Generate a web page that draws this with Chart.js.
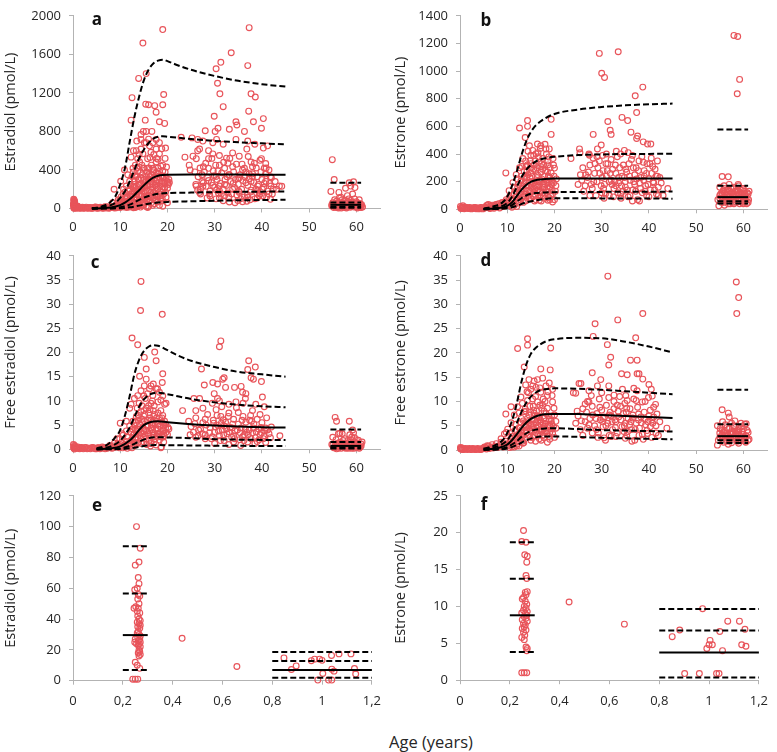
<!DOCTYPE html>
<html><head><meta charset="utf-8">
<script src="https://cdn.jsdelivr.net/npm/chart.js@4.4.1/dist/chart.umd.min.js"></script>
<style>
body{margin:0;background:#fff;width:777px;height:752px;position:relative;overflow:hidden;font-family:"Open Sans",sans-serif;}
canvas{position:absolute;}
.lbl{position:absolute;font-weight:bold;font-size:17px;color:#111;transform:translate(-50%,-50%);line-height:1;}
.xt{position:absolute;font-size:16.5px;color:#262626;transform:translate(-50%,-50%);white-space:nowrap;}
</style></head><body>
<canvas id="ca" width="390" height="240" style="left:0;top:0"></canvas>
<canvas id="cb" width="387" height="240" style="left:390px;top:0"></canvas>
<canvas id="cc" width="390" height="240" style="left:0;top:240px"></canvas>
<canvas id="cd" width="387" height="240" style="left:390px;top:240px"></canvas>
<canvas id="ce" width="390" height="240" style="left:0;top:480px"></canvas>
<canvas id="cf" width="387" height="240" style="left:390px;top:480px"></canvas>
<div class="lbl" style="left:97px;top:18px">a</div>
<div class="lbl" style="left:486px;top:19px">b</div>
<div class="lbl" style="left:95px;top:261px">c</div>
<div class="lbl" style="left:486px;top:259px">d</div>
<div class="lbl" style="left:97px;top:504px">e</div>
<div class="lbl" style="left:484px;top:503px">f</div>
<div class="xt" style="left:431px;top:741px">Age (years)</div>
<script>
// ---------- panel titles ----------
const yTitles = {a:"Estradiol (pmol/L)", b:"Estrone (pmol/L)", c:"Free estradiol (pmol/L)", d:"Free estrone (pmol/L)", e:"Estradiol (pmol/L)", f:"Estrone (pmol/L)"};

// ---------- panel a : estradiol (age 0-61 y) ----------
const aPoints = [
[0.15,95],[0.25,85],[0.2,75],[0.3,65],[0.25,55],[0.2,45],[0.3,38],[0.25,30],[0.2,22],[0.3,15],[0.25,8],[0.2,2],[0.45,28],[0.65,10],[0.85,15],[0.95,8],[1.0,14],[1.05,4],[1.1,18],
[1.4,5],[1.8,10],[2.2,3],[2.6,8],[3.0,4],[3.4,9],[3.8,3],[4.2,7],[4.6,12],[5.0,4],[5.4,9],[5.8,14],[6.2,6],[6.6,12],[7.0,5],[7.4,18],[7.8,8],[8.2,22],[8.6,12],[9.0,30],[9.4,15],[9.8,40],[10.2,20],[10.6,55],[11.0,30],[11.4,10],[12.0,15],[12.6,25],[13.2,10],[14.0,40],[8.4,60],[9.6,90],[10.2,120],
[8.7,200],[10.1,283],[10.9,400],[12.3,533],[13.4,600],[12.7,417],[11.6,350],[11.3,233],[10.6,150],[9.9,83],[9.2,43],[12.3,150],[13,283],[13.7,383],[14.1,483],[14.8,567],[15.8,517],[16.5,583],[16.9,417],[17.6,483],[18.3,383],[19,450],[19.7,317],[20.1,267],[19.4,217],[18.7,167],[17.6,217],[16.5,283],[15.5,333],[14.8,250],[14.1,183],[13.4,117],[14.4,83],[15.5,133],[16.2,83],[16.9,33],[17.9,67],[18.3,33],[19,23],[19.7,117],[15.8,233],[17.3,317],[14.4,317],[13.4,233],[12.3,83],[11.3,67],[10.9,117],[12,283],[12.7,217],[15.1,417],[15.8,417],[13.7,517],[14.4,617],[16.2,650],[16.9,683],[15.1,683],[17.6,367],[18.7,283],[16.5,167],[15.1,167],[13.4,333],[12.5,333],[10.7,200],[18.3,567],
[14.8,1717],[19,1857],[15.5,1400],[13.9,1350],[12.5,1150],[19.2,1183],[15.4,1083],[16,1077],[17.3,1067],[19,1077],[17.6,1000],[12.3,917],[15.3,917],[18.3,900],[19.4,883],[15.5,800],[16.7,800],[14.4,767],[14.4,717],[17.6,717],[18.3,683],[19.6,627],[17.6,617],[15.5,683],
[12.8,380],[13.2,450],[13.8,300],[14.3,380],[14.6,450],[15.0,300],[15.3,230],[15.6,380],[16.0,350],[16.3,250],[16.6,450],[17.0,250],[17.3,140],[17.8,300],[18.0,420],[18.5,230],[18.8,340],[19.2,270],[19.5,380],[20.0,210],[11.8,180],[12.2,250],[13.0,180],[13.6,160],[14.6,130],[16.0,190],[17.0,110],[18.0,120],[19.2,150],[11.5,120],[12.0,50],[13.0,60],[14.0,30],[15.0,40],[16.0,20],[17.2,50],[18.6,80],[20.0,60],[10.5,90],[11.0,170],[12.8,600],[13.5,700],[14.0,560],[14.9,800],[16.0,720],[17.1,560],[18.0,510],[18.8,620],[19.5,520],[20.2,250],[20.4,270],
[37.3,1877],[33.5,1617],[31.3,1517],[30.3,1450],[37,1483],[30.6,1300],[37.7,1190],[38.6,1157],[31.1,1190],[31.8,1057],[37.2,1010],[29.9,957],[40.3,933],[38.2,900],[34.5,900],[34.7,867],[33.1,823],[30.7,833],[30.1,800],[28,807],[39.9,833],[36.3,800],
[22.9,740],[25.2,733],[26.4,717],[27.5,700],[29.6,683],[30.4,717],[31.8,667],[34.5,717],[37,700],[38.5,667],[40.3,627],[41.2,650],[36.8,617],[26.8,617],[28.7,600],[29.6,567],[33.8,577],[26.4,600],[23.7,533],[25.4,543],[26.1,517],[28.7,517],[31,550],[32.5,523],[35.2,543],[37.7,483],[39.9,517],[40.8,467],[24.6,450],[24.8,400],[27.3,350],[27.6,433],[28.7,417],[31,450],[32.1,417],[33.8,433],[36.3,417],[38,433],[40.5,417],[41.5,400],[30.3,333],[33.1,350],[35.2,317],[38,333],[40.8,283],[43.7,233],[41.9,233],[26.1,233],[27.6,267],[31,233],[34.2,217],[36.6,267],[39.1,233],[28.9,150],[32.1,133],[33.1,67],[34.9,83],[37,117],[39.4,133],[41.5,150],[30.3,100],[26.8,167],[31,183],[35.2,167],[37.7,190],[40.1,200],
[26,250],[26.5,330],[27,200],[27.3,280],[27.8,380],[28.2,230],[28.5,320],[29,180],[29.3,270],[29.7,390],[30,220],[30.5,300],[30.8,160],[31.2,260],[31.5,370],[31.8,200],[32.2,300],[32.5,240],[32.8,160],[33,350],[33.4,280],[33.8,200],[34,380],[34.4,300],[34.7,140],[35,250],[35.4,350],[35.7,200],[36,290],[36.3,120],[36.6,380],[37,240],[37.3,310],[37.6,170],[38,360],[38.3,270],[38.7,200],[39,330],[39.3,250],[39.6,150],[40,300],[40.4,220],[40.8,360],[41.2,180],[41.6,260],[42,320],[42.4,200],[30.2,450],[32.8,470],[35.8,460],[38.8,420],[29,130],[31,110],[33,120],[35.5,100],[37.5,90],[39,110],[41,120],[27,150],[34.3,60],[36.8,75],[38.5,100],[41.8,95],[44.2,230],[43.1,200],
[54.9,507],[55.3,300],[54.6,177],[56.3,167],[57.7,210],[58.8,233],[58.5,267],[59.4,277],[59.7,217],[56.7,117],[58.1,133],[59.2,150],[57.7,83],[58.8,83],[55,60],[55.5,40],[56,20],[56.5,50],[57,30],[57.5,10],[58,55],[58.5,25],[59,45],[59.5,15],[60,35],[60.5,20],[61,30],[55.2,10],[56.2,5],[57.2,45],[58.2,70],[59.2,60],[60.2,5],[60.8,50],[54.8,25],[55.8,75],[57,90],[60,70]
];
const aPointsDense = [
[0.6,3],[0.9,25],[1.2,10],[1.6,2],[2.0,12],[2.4,6],[2.8,14],[3.2,2],[3.6,11],[4.0,2],[4.4,4],[4.8,15],[5.2,2],[5.6,6],[6.0,10],[6.4,3],[6.8,18],[7.2,9],[7.6,3],[8.0,12],[8.8,5],[9.2,8],[10.0,10],[10.4,35],[10.8,15],[11.2,45],[11.6,25],[12.2,35],[12.8,8],[13.6,20],[0.1,50],[0.35,72],[0.1,30],[0.35,12],
[12.4,110],[12.9,250],[13.1,340],[13.3,90],[13.5,420],[13.9,200],[14.2,250],[14.5,200],[14.7,350],[15.2,100],[15.4,270],[15.7,180],[15.9,300],[16.1,420],[16.4,120],[16.7,350],[16.8,220],[17.1,400],[17.4,180],[17.6,280],[17.9,200],[18.1,330],[18.4,130],[18.6,440],[18.9,260],[19.1,200],[19.3,330],[19.6,170],[19.9,280],[20.3,300],[14.0,140],[15.2,60],[16.6,60],[17.5,90],[18.9,100],[13.8,70],[12.6,60],[14.9,420],[16.3,530],[17.7,520],[19.8,430],
[25.8,380],[26.9,420],[28.1,470],[29.4,520],[30.7,390],[31.9,480],[33.2,520],[34.6,460],[35.9,400],[37.1,540],[38.4,470],[39.6,500],[40.9,420],[27.5,230],[28.7,290],[29.9,340],[31.4,150],[32.6,330],[33.9,260],[35.1,180],[36.4,330],[37.7,280],[39.1,190],[40.5,260],[41.8,330],[42.8,280],[26.4,190],[29.6,240],[32.1,250],[34.9,310],[37.3,360],[39.8,380],[30.4,190],[33.6,150],[36.9,140],[40.2,130],[28.4,110],[31.8,80],[35.9,70],[38.9,160],[42.2,150],
[54.8,40],[55.3,25],[55.6,55],[55.9,10],[56.3,35],[56.6,15],[56.9,60],[57.3,20],[57.6,40],[57.9,5],[58.3,30],[58.7,12],[59,65],[59.3,30],[59.7,45],[60.1,15],[60.4,55],[60.7,10],[61.1,40],[61.3,15],[55.4,90],[56.4,110],[59.6,100],[60.6,90],[58.4,100]
];
const aPointsCore = [
[10.8,60],[11.2,100],[11.5,20],[11.8,80],[12.1,130],[12.3,30],[12.6,170],[12.9,90],[13.1,20],[13.3,150],[13.6,60],[13.9,250],[14.1,100],[14.3,15],[14.6,210],[14.8,60],[15.1,120],[15.3,180],[15.6,80],[15.8,10],[16.1,130],[16.3,330],[16.6,110],[16.8,260],[17.1,170],[17.4,240],[17.7,130],[18.0,200],[18.3,270],[18.6,110],[19.0,330],[19.4,260],[12.0,200],[13.0,220],[14.0,300],[15.0,230],[16.0,300],[17.0,380],[18.0,360],[19.0,390],[13.5,40],[14.7,30],[15.5,20],[11.0,40],[10.0,60],[9.5,25],
[55,30],[55.5,15],[56,45],[56.5,25],[57,55],[57.5,35],[58,15],[58.5,50],[59,20],[59.5,40],[60,55],[60.5,35],[61,10],[55.8,20],[57.8,25],[59.8,25],[56.8,5],[58.8,40]
];
const aP975 = [[4,0],[6,20],[8,70],[9,130],[10,250],[11,420],[12,690],[13,950],[14,1160],[15,1330],[16,1440],[17,1505],[18,1535],[19,1545],[20,1530],[22,1490],[25,1440],[30,1375],[35,1325],[40,1290],[45,1265]];
const aP75 = [[4,0],[6,10],[8,35],[9,60],[10,110],[11,180],[12,280],[13,400],[14,520],[15,610],[16,680],[17,725],[18,745],[19,750],[20,745],[25,722],[30,702],[35,688],[40,676],[45,665]];
const aP50 = [[4,0],[6,3],[8,10],[10,35],[11,60],[12,95],[13,140],[14,190],[15,240],[16,285],[17,320],[18,340],[19,348],[20,350],[25,352],[30,352],[35,352],[40,350],[45,350]];
const aP25 = [[4,0],[8,3],[10,12],[12,40],[14,90],[16,130],[18,152],[20,160],[25,165],[30,170],[35,173],[40,175],[45,177]];
const aP025 = [[4,0],[10,3],[12,12],[14,30],[16,50],[18,62],[20,68],[25,75],[30,80],[35,85],[40,88],[45,90]];
const aPost = [268, 62, 38, 18, 8];   // P97.5, P75, P50, P25, P2.5 (postmenopausal)

// ---------- panel b : estrone ----------
const bPoints = [
[0.1,20],[0.3,12],[0.5,6],[0.7,15],[1.0,8],[1.4,12],[1.8,5],[2.2,10],[2.6,6],[3.0,12],[3.4,4],[3.8,9],[4.2,5],[4.6,11],[5.0,7],[5.4,15],[5.8,30],[6.2,10],[6.6,22],[7.0,14],[7.4,28],[7.8,18],[8.2,40],[8.6,25],[9.0,50],[9.4,35],[9.8,70],[10.2,45],[10.6,25],[11.0,15],[11.5,30],[12.0,20],[5.6,25],[6.0,35],
[29.5,1128],[33.5,1140],[30,984],[30.6,954],[38.7,884],[37.1,821],[31.3,635],[34.3,665],[35.5,642],[31.8,572],[32,542],[28.2,542],[36.2,558],[37.4,700],[37.6,530],[37.4,512],[38.8,488],[39.7,472],[40.4,472],[29.9,465],[29.1,437],[34.8,426],[25.3,437],[25.4,409],[23.5,367],[27.4,391],[12.6,588],[14.3,642],[14.3,600],[13.8,519],[19.3,651],[19.3,542],[9.7,263],
[11.9,251],[13.3,367],[14.7,460],[15.4,426],[16.4,472],[17.1,460],[18.2,437],[18.9,437],[15,391],[16.1,402],[17.5,367],[18.8,379],[19.7,367],[14.3,321],[15.7,321],[17.1,309],[18.6,321],[20,298],[13.6,274],[15,263],[16.4,251],[17.9,240],[19.3,263],[12.9,205],[14.7,193],[16.1,205],[17.5,181],[18.9,193],[20.3,170],[12.2,158],[14,135],[15.4,147],[16.8,123],[18.2,135],[19.6,112],[11.5,112],[13.3,88],[15,77],[16.8,65],[18.6,65],[19.6,53],[10.8,77],[10.1,53],[9.4,37],[10.4,135],[11.2,193],[12.2,65],[14,62],[16.1,70],[17.9,80],
[13.6,230],[14.2,280],[14.8,350],[15.6,290],[16.2,160],[16.9,210],[17.3,330],[18.0,280],[18.4,190],[19.0,230],[19.9,240],[13.0,130],[14.4,100],[15.8,110],[17.6,100],[19.2,95],[12.6,110],[14.8,230],[16.6,380],[18.3,400],
[25.5,250],[26,300],[26.5,170],[27,230],[27.5,320],[28,150],[28.5,260],[29,200],[29.5,350],[30,120],[30.3,280],[30.6,180],[31,240],[31.3,330],[31.6,100],[32,210],[32.3,290],[32.6,150],[33,260],[33.3,380],[33.6,190],[34,110],[34.3,240],[34.6,320],[35,160],[35.3,270],[35.6,90],[36,210],[36.3,360],[36.6,140],[37,250],[37.3,300],[37.6,70],[38,190],[38.3,230],[38.6,120],[39,280],[39.3,170],[39.6,330],[40,220],[40.3,140],[40.6,260],[41,190],[41.3,290],[41.6,110],[42,160],[42.3,230],[43,100],[44,150],[25,180],[26.2,130],[27.2,270],[28.3,200],[29.2,300],[30.1,230],[30.9,330],[31.8,260],[32.8,200],[33.8,300],[34.8,230],[35.8,330],[36.8,200],[37.8,280],[38.8,340],[39.8,180],[40.8,310],[41.8,240],[28.8,100],[30.5,80],[32.5,90],[34.5,130],[36,100],[38,60],[40,90],[42,100],[33,170],[35,200],[37,180],[39,240],[31,400],[34,400],[36.5,390],[38.5,380],[29,380],[32,360],[27.3,400],
[58,1258],[58.8,1250],[59.2,940],[58.7,836],[55.5,237],[56.8,235],[55,160],[56,150],[57,180],[58,160],[59,170],[60,150],[61,110],[54.8,25],[55.5,70],[56,30],[56.5,100],[57,60],[57.5,120],[58,90],[58.5,50],[59,110],[59.5,70],[60,100],[60.5,60],[55.2,110],[56.2,80],[57.2,40],[58.2,130],[59.2,40],[60.2,130],[60.8,80],[55.8,50],[57.8,70],[59.8,90],[56.6,140],[58.6,120]
];
const bPointsDense = [
[0.2,5],[0.6,25],[0.9,4],[1.2,15],[1.6,8],[2.0,14],[2.4,3],[2.8,9],[3.2,14],[3.6,7],[4.0,3],[4.4,14],[4.8,3],[5.2,10],[5.7,12],[6.4,5],[6.8,30],[7.2,8],[7.6,35],[8.0,20],[8.4,10],[8.8,45],[9.2,20],[9.6,55],[10.0,30],[10.4,85],[10.8,40],[11.2,60],[11.8,90],[12.4,45],
[12.8,170],[13.1,310],[13.5,180],[13.9,350],[14.1,230],[14.6,140],[14.9,300],[15.2,200],[15.6,390],[15.9,170],[16.3,300],[16.5,410],[16.8,200],[17.2,270],[17.4,120],[17.7,320],[18.1,180],[18.5,270],[18.7,150],[19.1,300],[19.4,180],[19.8,320],[20.2,130],[20.4,220],[13.7,60],[15.5,90],[16.9,95],[18.8,85],[20.0,70],[14.4,420],[17.0,440],[18.0,470],[12.2,220],[11.6,160],[13.9,110],[15.1,160],[16.5,140],[17.9,160],[19.5,140],[16.0,280],
[25.8,210],[27.8,180],[28.6,330],[29.6,260],[30.4,150],[31.2,280],[32.2,180],[32.9,320],[33.6,230],[34.2,170],[35.1,290],[35.9,240],[36.7,300],[37.4,220],[38.2,150],[38.9,210],[39.5,260],[40.2,330],[40.9,200],[41.5,240],[42.6,190],[29.9,170],[31.6,200],[33.4,120],[35.4,140],[37.2,130],[39.2,130],[41.2,140],[27.5,100],[30.8,110],[34.1,80],[36.5,60],[39.5,100],[26.6,250],[28.2,370],[30.2,390],[33.1,420],[35.6,410],[37.9,350],[40.5,370],[41.8,350],
[54.6,70],[55,100],[55.4,50],[55.7,130],[56.1,60],[56.4,110],[56.8,40],[57.1,90],[57.4,150],[57.7,50],[58.1,100],[58.4,70],[58.8,140],[59.1,80],[59.4,120],[59.7,50],[60.1,80],[60.4,110],[60.7,40],[61.1,70],[61.2,130],[56,120],[57.9,110],[59.9,60],[55.9,170],[58.9,180]
];
const bPointsCore = [
[11.0,70],[11.4,40],[11.8,130],[12.0,90],[12.4,180],[12.7,70],[13.0,240],[13.2,150],[13.5,110],[13.8,200],[14.1,170],[14.4,250],[14.6,80],[14.9,130],[15.2,240],[15.5,190],[15.8,150],[16.0,100],[16.3,230],[16.7,170],[17.0,130],[17.3,220],[17.6,160],[18.0,110],[18.3,210],[18.7,240],[19.0,160],[19.4,210],[19.8,190],[15.0,330],[16.0,350],[17.5,290],[18.6,350],[14.0,310],[12.6,300],[13.4,50],[15.8,60],[17.2,60],[19.0,70],
[55,80],[55.5,120],[56,90],[56.5,60],[57,130],[57.5,80],[58,40],[58.5,100],[59,60],[59.5,140],[60,40],[60.5,90],[61,50],[55.8,140],[57.8,150],[59.8,150],[56.8,110],[58.8,100],[60.8,120]
];
const bP975 = [[5,5],[7,20],[9,50],[10,90],[11,170],[12,270],[13,390],[14,490],[15,560],[16,605],[17,635],[18,658],[20,690],[25,722],[30,740],[35,752],[40,760],[45,765]];
const bP75 = [[5,3],[8,15],[10,45],[11,90],[12,160],[13,230],[14,285],[15,320],[16,345],[17,360],[18,370],[20,380],[25,392],[30,397],[35,400],[40,401],[45,402]];
const bP50 = [[5,2],[8,8],[10,25],[11,50],[12,95],[13,140],[14,175],[15,198],[16,210],[17,216],[18,220],[20,222],[30,223],[45,223]];
const bP25 = [[5,1],[8,5],[10,15],[11,30],[12,55],[13,80],[14,100],[15,112],[16,118],[18,122],[20,124],[30,126],[45,128]];
const bP025 = [[5,0],[8,3],[10,8],[12,25],[14,50],[16,65],[18,75],[20,80],[30,79],[45,77]];
const bPost = [577, 170, 88, 58, 42];

// ---------- panel c : free estradiol ----------
const cPoints = [
[0.1,1],[0.2,0.5],[0.3,0.8],[0.5,0.3],[0.8,0.4],[1.2,0.2],[1.6,0.3],[2,0.2],[2.5,0.3],[3,0.1],[3.5,0.2],[4,0.3],[4.5,0.2],[5,0.1],[5.5,0.3],[6,0.2],[6.5,0.4],[7,0.3],[7.5,0.5],[8,0.3],[8.5,0.7],[9,0.5],[9.5,1],[10,0.6],[10.5,0.3],[11,0.5],[11.5,0.2],[12,0.6],[12.5,0.3],[0.2,0.2],[0.3,0.05],[9.3,2.2],[10.4,3.2],
[14.4,34.7],[14.3,28.7],[18.9,27.9],[12.5,23],[13.7,21.6],[17.3,20.1],[15.1,19],[17.6,18.3],[15.5,16.6],[14.1,15.1],[19,15.6],[18.9,13.8],[16.5,13.1],[19.4,9.3],[19.7,9.5],[10,5.4],
[11.3,5.8],[12,8.5],[12.3,9.3],[13,10.5],[13.7,11.1],[14.4,12.1],[15.1,13.1],[15.5,14.5],[16.2,12.5],[16.9,11.1],[17.6,12.5],[18.3,11.8],[18,9.8],[16.5,9.5],[15.5,8.5],[14.4,7.8],[13.4,6.8],[12.7,5.8],[12,4.8],[11.3,3.8],[10.6,2.9],[9.9,2.2],[8.8,1.3],[14.1,5.2],[15.1,5.8],[16.2,6.5],[17.3,7.2],[18.3,6.5],[19.4,5.8],[20.1,4.5],[19,3.8],[17.6,4.2],[16.2,3.8],[14.8,3.2],[13.4,2.5],[12.3,1.9],[15.5,2.2],[16.9,2.5],[18.3,1.9],[18.7,0.5],[17.6,0.9],[16.5,1.2],[14.8,4.5],[15.8,4.8],[16.9,5.5],[18,5.2],[19.7,3.5],
[13.2,4.0],[13.8,6.0],[14.6,9.0],[15.3,10.5],[16.0,7.5],[16.6,4.4],[17.2,9.0],[17.9,3.2],[18.6,8.0],[19.2,4.8],[14.2,2.8],[15.0,1.5],[16.4,0.7],[17.8,2.8],[19.0,2.5],[12.8,3.0],[13.6,8.5],[15.8,11.5],[17.0,13.5],[18.6,10.2],
[24.5,5.8],[25,4.7],[25.5,3.5],[26,6.5],[26.5,2.8],[27,4.2],[27.5,5.5],[28,3.0],[28.5,7.2],[29,4.5],[29.3,2.2],[29.7,6.0],[30,3.5],[30.3,8.2],[30.6,5.0],[31,2.8],[31.3,6.8],[31.6,4.0],[32,1.8],[32.3,5.6],[32.6,3.2],[33,7.5],[33.3,4.5],[33.6,2.5],[34,6.2],[34.3,3.8],[34.6,8.6],[35,5.2],[35.3,2.0],[35.6,4.4],[36,6.8],[36.3,3.0],[36.6,5.6],[37,1.5],[37.3,4.0],[37.6,7.0],[38,3.4],[38.3,5.2],[38.6,2.4],[39,6.2],[39.3,4.2],[39.6,3.0],[40,5.5],[40.3,2.2],[40.6,3.8],[41,6.5],[41.5,3.2],[42,4.6],[43.8,2.8],[27.5,8.5],[29.5,9.5],[31.5,8.8],[36,9.5],[38,8.0],[30,1.2],[33,1.0],[35.5,0.8],[38.5,1.2],[31,10],[28,2.2],[26,2.5],[32,4.8],[34,2.8],[36.8,3.5],[39.8,4.5],[40.8,4.4],[37.8,5.8],[35.8,6.0],[33.8,5.2],[31.8,6.1],[29.8,5.4],
[31.3,22.4],[31,21.2],[37.2,18.3],[38.6,17],[37,16.5],[27.2,16.6],[37.7,14.8],[38.2,14.5],[31.7,14.5],[32,14.8],[39.9,14],[29.6,13.8],[30.6,13.5],[27.8,13.3],[34.2,12.8],[35.6,13],[32.3,12.8],[35.9,11.8],[36.6,11.5],[29.9,11.5],[30.6,10.5],[26.8,10.5],[25.6,10.5],[40.1,10.8],[40.5,8.8],[36.5,10.5],[38.7,9.3],[33,9.3],[34.5,9.8],[23.2,8],
[55.5,6.6],[55.8,5.8],[58.5,5.8],[59.2,4.0],[56.5,3.3],[57,3.2],[59,2.5],[60,2],[55,2.5],[55.2,0.3],[55.6,1.0],[56,0.5],[56.4,1.4],[56.8,0.2],[57.2,0.8],[57.6,0.4],[58,1.2],[58.4,0.2],[58.8,0.9],[59.2,0.5],[59.6,1.5],[60,0.3],[60.4,0.8],[60.8,0.4],[57.5,2.2],[58.6,3.0],[59.4,3.4],[58.2,1.8]
];
const cPointsDense = [
[0.15,0.3],[0.4,0.6],[0.7,0.2],[1,0.5],[1.4,0.1],[1.8,0.4],[2.2,0.1],[2.7,0.4],[3.2,0.2],[3.7,0.1],[4.2,0.4],[4.7,0.1],[5.2,0.3],[5.7,0.1],[6.2,0.5],[6.8,0.1],[7.3,0.2],[7.8,0.8],[8.3,0.2],[8.8,0.4],[9.3,0.8],[9.8,0.3],[10.3,1.4],[10.8,0.9],[11.3,1.6],[11.8,1.0],[12.3,1.3],[13,0.8],[13.6,1.2],
[12.6,4.2],[13.0,3.2],[13.3,5.5],[13.6,4.2],[13.9,7.0],[14.3,3.5],[14.6,6.2],[14.9,2.5],[15.2,7.2],[15.4,4.0],[15.8,6.0],[16.0,3.0],[16.3,8.2],[16.6,5.2],[16.9,3.5],[17.1,6.8],[17.4,2.2],[17.7,5.8],[18.0,3.2],[18.3,4.8],[18.5,2.6],[18.8,6.5],[19.1,4.0],[19.3,2.8],[19.6,5.2],[20.0,3.0],[20.3,4.2],[14.0,9.5],[15.0,11.0],[16.8,10.0],[17.9,12.5],[19.0,11.0],[15.6,1.0],[17.2,1.5],[19.2,1.5],[14.5,1.2],[18.6,0.3],
[24.8,3.0],[25.8,5.3],[26.6,4.0],[27.4,3.2],[28.2,5.0],[28.9,3.4],[29.5,2.6],[30.2,4.6],[30.8,3.8],[31.4,5.4],[31.9,3.0],[32.5,4.2],[33.1,3.6],[33.7,4.4],[34.2,2.2],[34.8,4.0],[35.4,3.4],[35.9,2.6],[36.5,4.2],[37.1,3.0],[37.7,2.2],[38.2,4.4],[38.8,3.6],[39.4,2.0],[39.9,3.4],[40.5,2.8],[41.2,4.0],[41.8,2.4],[30.5,7.0],[32.9,6.8],[35.0,7.6],[37.4,6.0],[39.6,7.2],[28.0,6.2],[26.0,8.0],[34.0,1.5],[31.2,1.8],[36.2,1.8],[39.0,1.6],[40.8,1.4],
[54.8,1.0],[55.4,0.6],[55.9,1.2],[56.2,0.2],[56.6,0.7],[57,1.3],[57.4,0.3],[57.8,0.9],[58.2,0.5],[58.6,1.4],[59,0.2],[59.4,0.9],[59.8,0.5],[60.2,1.2],[60.6,0.2],[61,0.7],[61.2,1.5],[55.7,2.0],[57.2,1.8],[59.6,2.4],[60.4,1.9],[56.2,3.2],[58.8,2.0]
];
const cPointsCore = [
[11.0,1.0],[11.5,2.5],[12.0,1.2],[12.3,3.5],[12.6,2.2],[12.9,1.0],[13.2,2.0],[13.5,3.8],[13.8,1.4],[14.1,4.2],[14.4,2.3],[14.7,5.5],[15.0,3.8],[15.3,2.8],[15.6,5.0],[15.9,3.4],[16.2,1.8],[16.5,6.0],[16.8,4.0],[17.1,3.0],[17.4,5.0],[17.7,6.5],[18.0,4.2],[18.4,3.5],[18.8,5.6],[19.2,3.2],[19.6,4.4],[13.0,5.0],[14.0,6.5],[15.0,8.0],[16.0,9.0],[17.0,8.0],[18.0,7.5],[19.0,7.0],
[55,0.8],[55.5,0.3],[56,1.0],[56.5,0.5],[57,0.6],[57.5,1.1],[58,0.3],[58.5,0.8],[59,1.2],[59.5,0.2],[60,1.0],[60.5,0.5],[61,1.1],[55.8,0.1],[57.8,0.2],[59.8,1.3]
];
const cP975 = [[5,0.2],[7,0.8],[8,1.5],[9,2.5],[10,4],[11,7],[12,11],[13,15.5],[14,18.5],[15,20.3],[16,21.2],[17,21.5],[18,21.4],[20,20.5],[22,19.5],[25,18.3],[30,17],[35,16],[40,15.5],[45,15]];
const cP75 = [[5,0.1],[8,0.6],[10,1.8],[11,3],[12,4.5],[13,6.7],[14,8.8],[15,10.3],[16,11.2],[17,11.6],[18,11.7],[20,11.4],[25,10.4],[30,9.7],[35,9.2],[40,8.9],[45,8.7]];
const cP50 = [[5,0],[8,0.2],[10,0.6],[12,1.8],[13,2.8],[14,4.0],[15,5.0],[16,5.5],[17,5.75],[18,5.8],[20,5.6],[25,5.2],[30,4.9],[35,4.7],[40,4.55],[45,4.5]];
const cP25 = [[5,0],[10,0.2],[12,0.7],[14,1.6],[16,2.3],[18,2.5],[20,2.45],[25,2.3],[30,2.1],[35,2.0],[45,1.9]];
const cP025 = [[5,0],[10,0.05],[12,0.2],[14,0.5],[16,0.8],[18,0.87],[20,0.85],[30,0.75],[45,0.66]];
const cPost = [4.1, 1.5, 0.7, 0.35, 0.15];

// ---------- panel d : free estrone ----------
const dPoints = [
[0.1,0.5],[0.2,0.3],[0.3,0.2],[0.5,0.1],[1,0.2],[1.5,0.1],[2,0.3],[2.5,0.1],[3,0.2],[3.5,0.1],[4,0.2],[4.5,0.1],[5,0.3],[5.5,0.5],[5.8,0.9],[6.2,0.3],[6.6,0.6],[7,0.4],[7.5,0.8],[8,0.5],[8.5,1.0],[9,0.7],[9.5,1.3],[10,0.9],[10.5,0.5],[11,1.0],[11.5,0.6],[12,1.2],[12.5,0.8],[9.8,3.6],
[12.2,20.9],[14.3,22.9],[14.3,21.6],[13.6,17.1],[17.1,16.7],[19.2,21],[19.1,16.5],[13.9,13.4],[14.6,14.5],[15.7,14.2],[16.4,14.5],[17.5,14.8],[18.2,13.2],[18.9,13.8],[19.6,12.5],[15,12.5],[16.1,12.9],[17.1,11.9],[18.5,11.2],[19.6,9.9],[12.9,10.9],[12.2,8.9],[13.2,9.6],[14.3,10.2],[15.4,10.5],[16.4,9.9],[17.5,9.2],[18.5,8.6],[19.9,8.6],[11.5,7.2],[12.5,7.6],[13.6,7.9],[14.6,7.2],[15.7,7.6],[16.8,6.9],[17.8,6.6],[18.9,6.3],[20.3,5.9],[10.8,5.6],[11.8,5.3],[12.9,5.6],[13.9,4.9],[15,5.3],[16.1,4.6],[17.1,4.3],[18.2,4],[19.6,4.3],[10.1,4.3],[9.4,3.3],[8.7,2.3],[11,3.6],[12.5,3.3],[15.4,2.6],[16.8,2.3],[18.5,1.6],[17.5,3],[9.7,7.4],[10.8,8.9],
[13.0,6.5],[13.8,8.5],[14.8,9.0],[15.5,6.2],[16.2,8.0],[16.9,5.5],[17.6,10.5],[18.2,7.5],[19.0,5.2],[19.4,7.0],[14.0,3.5],[15.2,3.8],[16.5,3.2],[17.8,2.5],[19.0,2.2],[12.0,2.4],[13.2,1.8],[14.5,11.8],[16.0,11.0],[18.0,10.0],
[24.5,5.5],[25,7],[25.5,4.2],[26,8.5],[26.5,5.8],[27,4.5],[27.5,6.5],[28,9],[28.5,5],[29,7.5],[29.3,3.5],[29.7,6.2],[30,8.2],[30.3,4.8],[30.6,6.8],[31,9.2],[31.3,5.5],[31.6,3.0],[32,7.0],[32.3,4.2],[32.6,8.5],[33,5.8],[33.3,3.5],[33.6,6.8],[34,9.0],[34.3,4.8],[34.6,7.5],[35,5.5],[35.3,3.0],[35.6,6.5],[36,8.5],[36.3,4.2],[36.6,7.2],[37,2.0],[37.3,5.5],[37.6,8.8],[38,4.5],[38.3,6.8],[38.6,3.2],[39,7.8],[39.3,5.2],[39.6,4.0],[40,7.0],[40.3,4.8],[40.6,6.2],[41,8.8],[41.5,5.0],[42,3.0],[43.8,4.5],[26,3.0],[28,3.5],[30.5,2.5],[33,2.8],[35.5,3.8],[38.8,2.2],[41.5,3.5],[27,10],[29.5,10.5],[33.8,11],[36.8,10.5],[39.2,10],[31.5,10.8],[30.2,5.8],[32.8,6.2],[35.2,7.8],[37.8,6.2],[39.8,5.8],[31.8,7.8],[34.8,5.0],[36.2,5.8],[28.8,6.5],[40.8,5.5],[24,11.8],[30.8,2.0],[36.4,1.8],
[31.3,35.8],[28.6,26],[33.4,26.8],[28.2,23.4],[31.2,21.7],[37.2,23.1],[38.7,28.1],[31.9,19.1],[31.5,17.5],[36.1,18.5],[37.5,18.5],[34.2,15.7],[35.4,15.5],[37.5,15.7],[37.9,15.7],[38.7,14.6],[28,15.9],[29.8,14.5],[29.1,13.2],[25.6,13.7],[25.2,13.7],[31.5,13.2],[34.4,12.5],[37.5,12.2],[40,13.5],[40.5,12.5],[40.7,11.1],[36.8,12.7],[35.1,11.2],[24.5,11.7],[27.3,12.2],[32.6,11.3],[35.4,10.2],[38.6,9.9],[41.4,9.4],[27.3,9.9],
[58.5,34.6],[59,31.4],[58.6,28.1],[55.5,8.3],[56.8,7.6],[57,6.8],[58.2,6],[59.5,5.5],[60.3,5.3],[54.5,5],[55,3.5],[54.5,1],[56.8,1.2],[55.5,2.2],[56,4],[56.5,2.8],[57.2,3.5],[57.8,2.2],[58.2,4.2],[58.8,3.0],[59.2,2.0],[59.8,3.8],[60.2,2.5],[60.8,4.0],[55.8,1.6],[57.5,1.5],[59,1.4],[60.5,1.6],[56.2,5.2],[58,5.0]
];
const dPointsDense = [
[0.15,0.2],[0.4,0.4],[0.8,0.1],[1.2,0.3],[1.7,0.2],[2.2,0.1],[2.7,0.3],[3.2,0.1],[3.7,0.3],[4.2,0.1],[4.7,0.3],[5.2,0.6],[5.6,0.2],[6,0.8],[6.4,0.4],[6.8,1.1],[7.2,0.5],[7.7,1.3],[8.2,0.7],[8.7,1.6],[9.2,0.6],[9.7,1.8],[10.2,1.2],[10.7,2.2],[11.2,1.4],[11.7,2.6],[12.2,1.7],[12.7,2.4],[13.3,1.4],
[12.8,4.6],[13.1,3.0],[13.4,6.0],[13.7,3.8],[14.0,8.0],[14.3,5.8],[14.6,3.2],[14.9,7.8],[15.2,4.6],[15.5,9.0],[15.8,6.2],[16.0,3.6],[16.3,7.0],[16.6,5.0],[16.9,9.2],[17.2,5.8],[17.5,4.0],[17.8,8.0],[18.1,5.4],[18.4,3.4],[18.7,7.0],[19.0,4.8],[19.3,6.0],[19.6,3.4],[20.0,7.2],[20.3,4.5],[14.2,12.0],[15.4,13.2],[16.9,12.8],[18.6,12.0],[19.5,11.2],[16.0,1.8],[17.2,2.0],[18.8,2.8],[20.0,2.6],[15.0,2.0],
[24.8,8.0],[25.7,6.0],[26.5,9.5],[27.3,5.2],[28.1,7.2],[28.9,4.2],[29.6,8.8],[30.3,6.5],[30.9,5.0],[31.6,7.2],[32.2,5.8],[32.9,4.6],[33.5,8.0],[34.1,6.2],[34.7,3.8],[35.3,8.6],[35.9,5.2],[36.5,6.6],[37.1,4.2],[37.8,7.4],[38.4,5.6],[39.1,6.4],[39.7,3.4],[40.3,8.2],[41.0,6.8],[41.7,7.4],[42.3,5.8],[27.8,11.2],[30.0,11.8],[32.6,10.0],[34.9,9.6],[37.3,10.2],[39.9,10.8],[29.2,2.6],[32.0,2.8],[35.0,2.4],[37.9,3.0],[40.6,2.6],[26.8,7.8],[33.3,9.2],
[54.7,2.0],[55.1,4.4],[55.4,3.0],[55.8,2.6],[56.2,3.4],[56.5,1.8],[56.9,4.4],[57.2,2.6],[57.6,3.8],[58,2.6],[58.4,3.4],[58.8,1.8],[59.1,4.4],[59.5,2.8],[59.9,3.2],[60.3,1.8],[60.7,2.8],[61,3.6],[61.2,2.2],[55.6,5.8],[57.5,5.5],[59.6,4.8],[60.6,5.4],[56.8,3.0],[58.3,2.9]
];
const dPointsCore = [
[10.5,1.5],[11.0,2.8],[11.3,1.8],[11.6,4.0],[11.9,2.2],[12.2,3.0],[12.5,4.6],[12.8,2.8],[13.1,4.2],[13.4,3.0],[13.7,5.2],[14.0,4.2],[14.3,6.5],[14.6,5.0],[14.9,4.0],[15.2,6.2],[15.5,4.8],[15.8,3.0],[16.1,5.6],[16.4,7.0],[16.7,4.0],[17.0,6.2],[17.3,3.8],[17.6,5.5],[17.9,4.6],[18.2,6.0],[18.6,5.0],[19.0,3.6],[19.4,5.4],[19.8,4.8],[13.5,1.5],[14.8,2.6],[12.0,0.8],[11.0,0.6],[15.6,8.2],[17.3,8.6],
[55,2.6],[55.5,4.0],[56,3.0],[56.5,4.6],[57,2.0],[57.5,3.2],[58,4.8],[58.5,2.4],[59,3.6],[59.5,2.0],[60,4.4],[60.5,3.0],[61,2.0],[55.8,3.6],[57.8,3.4],[59.8,2.2],[56.8,2.4],[58.8,4.0]
];
const dP975 = [[5,0.3],[7,0.8],[9,2],[10,3.5],[11,6],[12,9.5],[13,14],[14,17.5],[15,19.8],[16,21],[18,22.3],[20,22.8],[25,23.1],[30,23],[35,22.3],[40,21.3],[45,20.1]];
const dP75 = [[5,0.2],[8,0.8],[10,2],[11,3.5],[12,5.5],[13,7.8],[14,9.7],[15,11],[16,11.8],[17,12.3],[18,12.5],[20,12.7],[25,12.6],[30,12.4],[35,12.1],[40,11.8],[45,11.5]];
const dP50 = [[5,0.1],[8,0.4],[10,1.1],[11,2],[12,3.2],[13,4.5],[14,5.6],[15,6.4],[16,6.9],[17,7.2],[18,7.35],[20,7.4],[25,7.4],[30,7.2],[35,7.0],[40,6.8],[45,6.6]];
const dP25 = [[5,0.05],[8,0.2],[10,0.6],[12,1.8],[13,2.7],[14,3.4],[15,3.9],[16,4.2],[18,4.45],[20,4.5],[25,4.3],[30,4.1],[35,4.0],[40,3.9],[45,3.8]];
const dP025 = [[5,0],[8,0.1],[10,0.3],[12,1.0],[14,2.0],[16,2.6],[18,2.8],[20,2.8],[25,2.7],[30,2.5],[35,2.4],[40,2.3],[45,2.2]];
const dPost = [12.4, 5.3, 2.85, 2.0, 1.45];

// ---------- panel e : estradiol, infants (age in years) ----------
const ePoints = [
[0.255,100],[0.27,86],[0.265,77],[0.25,75],[0.262,67],[0.265,63],[0.258,60],[0.248,59],[0.262,56],[0.268,55],[0.26,53],[0.265,50],[0.252,48],[0.245,47],[0.262,47],[0.258,45],[0.268,44],[0.26,42],[0.265,40],[0.27,39],[0.258,38],[0.265,37],[0.27,36],[0.26,35],[0.268,34],[0.262,32],[0.258,31],[0.265,30],[0.27,29],[0.26,28],[0.25,27],[0.268,27],[0.262,26],[0.248,25],[0.27,25],[0.255,24],[0.266,24],[0.262,23],[0.27,22],[0.265,20],[0.268,19],[0.262,18],[0.27,17],[0.265,16],[0.25,12],[0.258,10],[0.268,8],[0.24,1],[0.25,1],[0.26,1],
[0.438,27.5],[0.658,9.2],
[0.847,14.8],[0.877,7.3],[0.896,9.6],[0.957,13],[0.97,14],[0.99,14],[1.0,13.2],[1.003,4.7],[1.038,16.4],[1.039,7.5],[1.048,6.2],[1.068,17.4],[1.116,17.4],[1.13,7.9],[1.135,4.3],[0.983,0.4],[1.026,0.4],[1.039,0.4]
];
const eInfant = {x0:0.2, x1:0.3, lines:[87.2, 56.6, 29.6, 7.0]};   // P97.5, P75, P50, P2.5
const eOne = {x0:0.8, x1:1.2, lines:[18.7, 12.8, 7.0, 1.9]};

// ---------- panel f : estrone, infants ----------
const fPoints = [
[0.255,20.3],[0.248,18.8],[0.265,18.7],[0.26,17.0],[0.27,16.8],[0.268,16.0],[0.265,14.2],[0.268,13.8],[0.27,12.0],[0.262,11.9],[0.265,11.6],[0.255,11.2],[0.25,11.0],[0.262,10.7],[0.268,10.3],[0.258,10.0],[0.265,9.8],[0.255,9.5],[0.27,9.3],[0.248,9.1],[0.262,9.0],[0.268,8.8],[0.258,8.6],[0.265,8.4],[0.25,8.2],[0.27,8.0],[0.255,7.7],[0.262,7.5],[0.258,7.2],[0.25,7.0],[0.265,6.8],[0.255,6.5],[0.26,6.1],[0.248,5.8],[0.258,5.5],[0.265,4.5],[0.27,4.3],[0.268,4.0],[0.248,1.0],[0.258,1.0],[0.268,1.0],
[0.438,10.6],[0.66,7.6],
[0.852,5.9],[0.882,6.8],[0.902,0.9],[0.961,0.9],[0.974,9.7],[0.991,4.3],[1.0,4.8],[1.004,5.4],[1.013,4.8],[1.03,0.9],[1.04,0.9],[1.043,6.6],[1.054,4.0],[1.075,8.0],[1.122,8.0],[1.131,4.8],[1.144,6.9],[1.148,4.6]
];
const fInfant = {x0:0.2, x1:0.3, lines:[18.7, 13.75, 8.8, 3.84]};
const fOne = {x0:0.8, x1:1.2, lines:[9.64, 6.74, 3.75, 0.36]};

// ---------- shared styles ----------
const RED = '#e8545a';
const AXIS = '#b3b3b3';
const TXT = '#262626';
const FONT = '"Open Sans", sans-serif';

function curve(pts, dashed) {
  return {data: pts.map(p => ({x:p[0], y:p[1]})), showLine:true, borderColor:'#000', borderWidth:2,
    borderDash: dashed ? [6,3] : [], pointRadius:0, pointHoverRadius:0, tension:0.4,
    cubicInterpolationMode:'monotone', fill:false, order:0, clip:false};
}
function seg(x0, x1, y, dashed) { return curve([[x0,y],[x1,y]], dashed); }

function build(id, o) {
  const ds = [];
  (o.curves || []).forEach((c, i) => ds.push(curve(c, i !== 2)));
  (o.segs || []).forEach(g => g.lines.forEach((y, i) => ds.push(seg(g.x0, g.x1, y, i !== 2))));
  ds.push({data: o.points.map(p => ({x:p[0], y:p[1]})), showLine:false, pointRadius:2.9, pointBorderWidth:1.15,
    pointBorderColor:RED, pointBackgroundColor:'rgba(255,255,255,0)', order:1, clip:false});
  new Chart(document.getElementById(id), {
    type:'scatter',
    data:{datasets:ds},
    options:{
      responsive:false, animation:false, devicePixelRatio:1,
      layout:{padding:{top:o.padTop, right:o.padRight, left:0, bottom:0}},
      plugins:{legend:{display:false}, tooltip:{enabled:false}},
      events:[],
      scales:{
        x:{type:'linear', min:o.xmin, max:o.xmax,
          border:{color:AXIS, width:1},
          grid:{display:true, drawOnChartArea:false, drawTicks:true, tickLength:4, tickColor:AXIS},
          ticks:{stepSize:o.xstep, color:TXT, font:{family:FONT, size:13}, padding:o.xpad, maxRotation:0, autoSkip:false,
            callback: v => String(Math.round(v*10)/10).replace('.', ',')},
          afterBuildTicks: s => { if (o.xkeep) s.ticks = s.ticks.filter(t => o.xkeep(t.value)); },
          afterFit: s => { s.height = o.xH; }},
        y:{type:'linear', min:0, max:o.ymax,
          border:{color:AXIS, width:1},
          grid:{display:true, drawOnChartArea:false, drawTicks:true, tickLength:4, tickColor:AXIS},
          ticks:{stepSize:o.ystep, color:TXT, font:{family:FONT, size:13}, padding:8, callback: v => String(v)},
          title:{display:true, text:o.title, color:TXT, font:{family:FONT, size:14.5}, padding:{top:2, bottom:0}},
          afterFit: s => { s.width = o.yW; }}
      }
    }
  });
}

const keep10 = v => Math.abs(v % 10) < 1e-6;
const postX0 = 54.5, postX1 = 61;
function postGroup(vals){ return {x0:postX0, x1:postX1, lines:vals}; }

build('ca', {points:aPoints.concat(aPointsDense, aPointsCore), curves:[aP975,aP75,aP50,aP25,aP025], segs:[postGroup(aPost)],
  xmin:0, xmax:65, xstep:10, xkeep:keep10, ymax:2000, ystep:400, title:yTitles.a,
  padTop:8, padRight:10, yW:73, xH:31.5, xpad:7});
build('cb', {points:bPoints.concat(bPointsDense, bPointsCore), curves:[bP975,bP75,bP50,bP25,bP025], segs:[postGroup(bPost)],
  xmin:0, xmax:65, xstep:10, xkeep:keep10, ymax:1400, ystep:200, title:yTitles.b,
  padTop:8.3, padRight:10, yW:70, xH:30.7, xpad:7});
build('cc', {points:cPoints.concat(cPointsDense, cPointsCore), curves:[cP975,cP75,cP50,cP25,cP025], segs:[postGroup(cPost)],
  xmin:0, xmax:65, xstep:10, xkeep:keep10, ymax:40, ystep:5, title:yTitles.c,
  padTop:8.3, padRight:10, yW:73, xH:30.7, xpad:7});
build('cd', {points:dPoints.concat(dPointsDense, dPointsCore), curves:[dP975,dP75,dP50,dP25,dP025], segs:[postGroup(dPost)],
  xmin:0, xmax:65, xstep:10, xkeep:keep10, ymax:40, ystep:5, title:yTitles.d,
  padTop:7.7, padRight:10, yW:70, xH:30, xpad:7});
build('ce', {points:ePoints, curves:[], segs:[eInfant, eOne],
  xmin:0, xmax:1.2, xstep:0.2, ymax:120, ystep:20, title:yTitles.e,
  padTop:12.7, padRight:10, yW:73, xH:39.3, xpad:9});
build('cf', {points:fPoints, curves:[], segs:[fInfant, fOne],
  xmin:0, xmax:1.2, xstep:0.2, ymax:25, ystep:5, title:yTitles.f,
  padTop:12.7, padRight:11, yW:70, xH:39.8, xpad:9});
</script>
</body></html>
